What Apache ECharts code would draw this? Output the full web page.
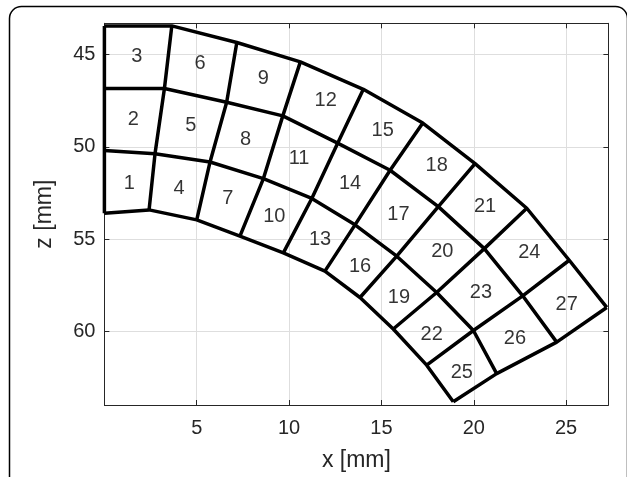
<!DOCTYPE html>
<html>
<head>
<meta charset="utf-8">
<script src="https://cdn.jsdelivr.net/npm/echarts@6/dist/echarts.min.js"></script>
<style>
  html, body { margin: 0; padding: 0; background: #fff; }
  #chart { width: 627px; height: 477px; }
</style>
</head>
<body>
<div id="chart"></div>
<script>
// mesh nodes along the 4 arcs (outer -> inner), one node per radial line R0..R9
const arcTopX = [0.00, 3.65, 7.17, 10.61, 14.02, 17.24, 20.07, 22.87, 25.17, 27.20];
const arcTopZ = [43.44, 43.44, 44.34, 45.39, 46.88, 48.71, 50.91, 53.33, 56.15, 58.71];
const arcUpX = [0.00, 3.25, 6.62, 9.66, 12.63, 15.47, 18.08, 20.57, 22.65, 24.49];
const arcUpZ = [46.84, 46.84, 47.58, 48.32, 49.80, 51.27, 53.24, 55.52, 58.08, 60.59];
const arcLowX = [0.00, 2.74, 5.72, 8.61, 11.23, 13.57, 15.83, 17.99, 19.98, 21.24];
const arcLowZ = [50.20, 50.38, 50.82, 51.72, 52.80, 54.23, 55.93, 57.90, 59.96, 62.30];
const arcBotX = [0.00, 2.42, 5.00, 7.34, 9.69, 11.94, 13.84, 15.64, 17.45, 18.89];
const arcBotZ = [53.60, 53.42, 53.96, 54.84, 55.75, 56.74, 58.17, 59.88, 61.84, 63.82];

// cell numbers and where they sit
const cellNames = ["1", "2", "3", "4", "5", "6", "7", "8", "9", "10", "11", "12", "13", "14",
  "15", "16", "17", "18", "19", "20", "21", "22", "23", "24", "25", "26", "27"];
const labelX = [1.35, 1.57, 1.75, 4.04, 4.68, 5.18, 6.68, 7.65, 8.61, 9.20, 10.54, 11.98, 11.68, 13.30,
  15.07, 13.84, 15.92, 17.99, 15.95, 18.30, 20.61, 17.72, 20.39, 23.01, 19.35, 22.23, 25.03];
const labelZ = [51.99, 48.53, 45.12, 52.26, 48.85, 45.48, 52.80, 49.61, 46.31, 53.78, 50.65, 47.51, 55.04, 51.99,
  49.12, 56.47, 53.69, 51.01, 58.17, 55.70, 53.24, 60.15, 57.90, 55.71, 62.24, 60.41, 58.53];

const xTicks = [5, 10, 15, 20, 25];
const zTicks = [45, 50, 55, 60];

const FONT = "Liberation Sans, Arial, Helvetica, sans-serif";
const AXIS_COLOR = "#262626";

const arcs = [
  [arcTopX, arcTopZ],
  [arcUpX, arcUpZ],
  [arcLowX, arcLowZ],
  [arcBotX, arcBotZ],
];

const meshStyle = { color: "#000", width: 3.5 };
const series = [];
arcs.forEach(([xs, zs]) => {
  series.push({
    type: "line",
    data: xs.map((x, i) => [x, zs[i]]),
    symbol: "none",
    lineStyle: meshStyle,
    silent: true,
    z: 3,
  });
});
for (let r = 0; r < arcTopX.length; r++) {
  series.push({
    type: "line",
    data: arcs.map(([xs, zs]) => [xs[r], zs[r]]),
    symbol: "none",
    lineStyle: meshStyle,
    silent: true,
    z: 3,
  });
}
series.push({
  type: "scatter",
  data: cellNames.map((n, i) => ({ name: n, value: [labelX[i], labelZ[i]] })),
  symbolSize: 1,
  itemStyle: { color: "rgba(0,0,0,0)" },
  label: {
    show: true,
    position: "inside",
    formatter: (p) => p.name,
    color: "#000",
    fontSize: 20,
    fontFamily: FONT,
  },
  silent: true,
  z: 4,
});

const xBase = {
  type: "value",
  min: 0,
  max: 27.29,
  interval: 5,
  axisLine: { show: true, onZero: false, lineStyle: { color: AXIS_COLOR, width: 1 } },
  axisTick: { show: true, inside: true, length: 5, lineStyle: { color: AXIS_COLOR } },
  splitLine: { show: false },
};
const zBase = {
  type: "value",
  inverse: true,
  min: 43.3,
  max: 64.0,
  axisLine: { show: true, onZero: false, lineStyle: { color: AXIS_COLOR, width: 1 } },
  axisTick: { show: true, inside: true, length: 5, customValues: zTicks, lineStyle: { color: AXIS_COLOR } },
  splitLine: { show: false },
};

const chart = echarts.init(document.getElementById("chart"));
chart.setOption({
  animation: false,
  backgroundColor: "#fff",
  grid: { left: 104.4, top: 23.3, width: 504, height: 385 },
  xAxis: [
    Object.assign({}, xBase, {
      position: "bottom",
      name: "x [mm]",
      nameLocation: "middle",
      nameGap: 44,
      nameTextStyle: { color: AXIS_COLOR, fontSize: 23, fontFamily: FONT },
      axisLabel: { color: AXIS_COLOR, fontSize: 20, fontFamily: FONT, margin: 13,
        customValues: xTicks },
      axisTick: Object.assign({}, xBase.axisTick, { customValues: xTicks }),
      splitLine: { show: true, lineStyle: { color: "#dedede", width: 1 } },
    }),
    Object.assign({}, xBase, {
      position: "top",
      axisLabel: { show: false },
      axisTick: Object.assign({}, xBase.axisTick, { customValues: xTicks }),
    }),
  ],
  yAxis: [
    Object.assign({}, zBase, {
      position: "left",
      name: "z [mm]",
      nameLocation: "middle",
      nameRotate: 90,
      nameGap: 48,
      nameTextStyle: { color: AXIS_COLOR, fontSize: 23, fontFamily: FONT },
      axisLabel: { color: AXIS_COLOR, fontSize: 20, fontFamily: FONT, margin: 9,
        customValues: zTicks },
      splitLine: { show: true, lineStyle: { color: "#dedede", width: 1 } },
    }),
    Object.assign({}, zBase, {
      position: "right",
      axisLabel: { show: false },
    }),
  ],
  graphic: [
    {
      type: "rect",
      shape: { x: 9.5, y: 6.5, width: 618, height: 520, r: 12 },
      style: { fill: "none", stroke: "#000", lineWidth: 1.5 },
      silent: true,
      z: 10,
    },
  ],
  series: series,
});
</script>
</body>
</html>
